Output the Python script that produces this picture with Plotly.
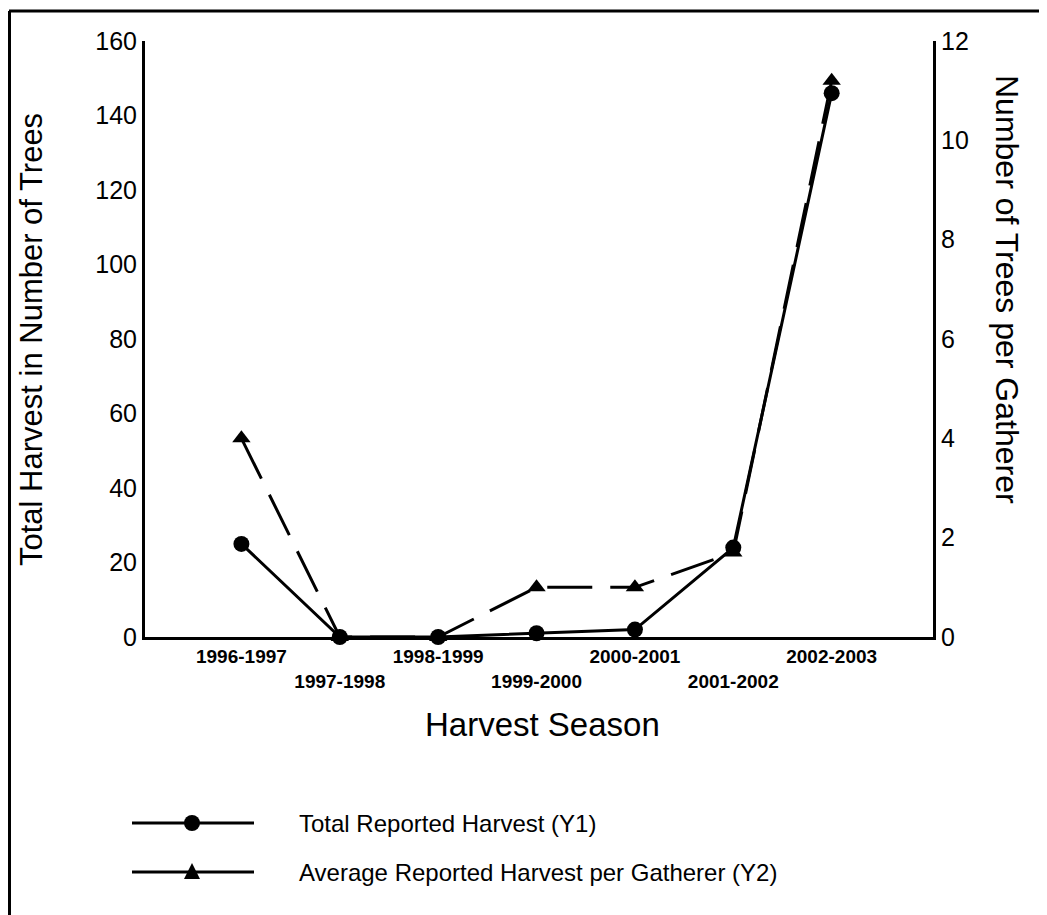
import plotly.graph_objects as go

seasons = ["1996-1997", "1997-1998", "1998-1999", "1999-2000",
           "2000-2001", "2001-2002", "2002-2003"]
total_harvest = [25, 0, 0, 1, 2, 24, 146]
avg_per_gatherer = [4, 0, 0, 1, 1, 1.7, 11.2]
y1_ticks = [0, 20, 40, 60, 80, 100, 120, 140, 160]
y2_ticks = [0, 2, 4, 6, 8, 10, 12]

W, H = 1047, 915
OFF = 8  # page body margin around the plot div
L, R, T, B = 137, 122, 33, 286
PW, PH = W - L - R, H - T - B


# helpers: page pixel -> paper coordinate
def px(x):
    return (x - OFF - L) / PW


def py(y):
    return (H - B - (y - OFF)) / PH


FONT = "Liberation Sans, Arial, sans-serif"

# stagger the category labels on two rows
tick_text = [s if i % 2 == 0 else "<br>" + s for i, s in enumerate(seasons)]

fig = go.Figure()
fig.add_trace(go.Scatter(
    x=seasons, y=total_harvest, mode="lines+markers",
    line=dict(color="black", width=3),
    marker=dict(symbol="circle", size=16, color="black"),
    cliponaxis=False, showlegend=False, yaxis="y"
))
fig.add_trace(go.Scatter(
    x=seasons, y=avg_per_gatherer, mode="lines+markers",
    line=dict(color="black", width=3, dash="45px,18px"),
    marker=dict(symbol="triangle-up", size=16, color="black"),
    cliponaxis=False, showlegend=False, yaxis="y2"
))

axis_common = dict(showline=True, linecolor="black", linewidth=3,
                   showgrid=False, zeroline=False, ticks="",
                   tickfont=dict(family=FONT, size=25, color="black"))

fig.update_layout(
    width=W, height=H,
    margin=dict(l=L, r=R, t=T, b=B),
    paper_bgcolor="white", plot_bgcolor="white",
    xaxis=dict(
        type="category", range=[-0.98, 7.03],
        tickvals=seasons, ticktext=tick_text,
        showline=True, linecolor="black", linewidth=3,
        showgrid=False, zeroline=False, ticks="",
        tickfont=dict(family=FONT, size=19, color="black", weight="bold"),
    ),
    yaxis=dict(range=[0, 160], tickvals=y1_ticks, **axis_common),
    yaxis2=dict(range=[0, 12], tickvals=y2_ticks, overlaying="y",
                side="right", **axis_common),
)

annotations = [
    dict(text="Total Harvest in Number of Trees", x=px(31), y=py(340),
         textangle=-90, font=dict(size=31)),
    dict(text="Number of Trees per Gatherer", x=px(1007), y=py(290),
         textangle=90, font=dict(size=32)),
    dict(text="Harvest Season", x=px(542), y=py(724), font=dict(size=33)),
    dict(text="Total Reported Harvest (Y1)", x=px(297), y=py(823),
         xanchor="left", font=dict(size=24)),
    dict(text="Average Reported Harvest per Gatherer (Y2)", x=px(297), y=py(872),
         xanchor="left", font=dict(size=24)),
]
for a in annotations:
    a.setdefault("xanchor", "center")
    a.update(xref="paper", yref="paper", yanchor="middle", showarrow=False)
    a["font"].update(family=FONT, color="black")
fig.update_layout(annotations=annotations)

shapes = [
    # outer frame (top and left edges visible)
    dict(type="line", x0=px(9), x1=px(W + 20), y0=py(11), y1=py(11),
         line=dict(color="black", width=3)),
    dict(type="line", x0=px(9.5), x1=px(9.5), y0=py(11), y1=py(H + 20),
         line=dict(color="black", width=3)),
    # legend keys
    dict(type="line", x0=px(132), x1=px(254), y0=py(823), y1=py(823),
         line=dict(color="black", width=3)),
    dict(type="line", x0=px(132), x1=px(254), y0=py(872), y1=py(872),
         line=dict(color="black", width=3)),
    dict(type="circle", xsizemode="pixel", ysizemode="pixel",
         xanchor=px(192), yanchor=py(823), x0=-8, x1=8, y0=-8, y1=8,
         fillcolor="black", line=dict(color="black", width=0)),
    dict(type="path", xsizemode="pixel", ysizemode="pixel",
         xanchor=px(192), yanchor=py(872),
         path="M -8 -7 L 8 -7 L 0 9 Z",
         fillcolor="black", line=dict(color="black", width=0)),
]
for s in shapes:
    s.update(xref="paper", yref="paper")
fig.update_layout(shapes=shapes)

fig.write_html("out.html")
